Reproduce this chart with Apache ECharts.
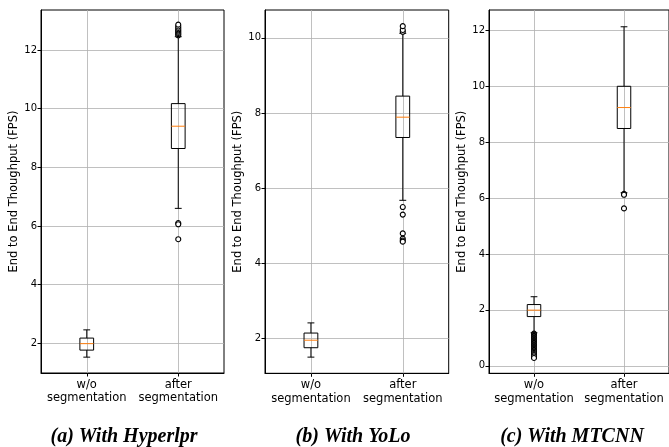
<!DOCTYPE html>
<html>
<head>
<meta charset="utf-8">
<script src="https://cdn.jsdelivr.net/npm/echarts@6/dist/echarts.min.js"></script>
<style>
html,body{margin:0;padding:0;background:#fff;}
#chart{width:669px;height:447px;}
</style>
</head>
<body>
<div id="chart"></div>
<script>
// ---------- data ----------
var categories = ['w/o\nsegmentation', 'after\nsegmentation'];
var yTitle = 'End to End Thoughput (FPS)';
var captions = ['(a) With Hyperlpr', '(b) With YoLo', '(c) With MTCNN'];

// box stats: [lowWhisker, Q1, median, Q3, highWhisker]
var hyperlprBoxes = [[1.53, 1.77, 1.99, 2.18, 2.46], [6.60, 8.64, 9.40, 10.17, 12.45]];
var hyperlprOutWo = [];
var hyperlprOutAfter = [12.50, 12.54, 12.58, 12.62, 12.66, 12.70, 12.75, 12.80, 12.86, 6.10, 6.06, 5.55];

var yoloBoxes = [[1.51, 1.76, 1.96, 2.15, 2.42], [5.68, 7.35, 7.89, 8.45, 10.12]];
var yoloOutWo = [];
var yoloOutAfter = [10.16, 10.21, 10.31, 5.50, 5.30, 4.80, 4.66, 4.61, 4.58];

var mtcnnBoxes = [[1.18, 1.76, 1.99, 2.19, 2.47], [6.19, 8.49, 9.24, 10.00, 12.13]];
var mtcnnOutWo = [1.15, 1.12, 1.10, 1.07, 1.05, 1.02, 1.00, 0.97, 0.95, 0.92, 0.90, 0.87, 0.85,
                  0.82, 0.80, 0.77, 0.75, 0.72, 0.70, 0.67, 0.65, 0.62, 0.60, 0.57, 0.55, 0.52,
                  0.50, 0.46, 0.42, 0.38, 0.33, 0.28];
var mtcnnOutAfter = [6.15, 6.12, 5.63];

var yRanges = [[0.99, 13.36], [1.08, 10.74], [-0.27, 12.73]];

// ---------- layout ----------
var grids = [
  {left: 41, top: 10, width: 183, height: 363},
  {left: 265, top: 10, width: 183.7, height: 363.3},
  {left: 489, top: 10, width: 183.3, height: 363.3}
];
var captionX = [124, 353, 572];

var panels = [
  {boxes: hyperlprBoxes, outWo: hyperlprOutWo, outAfter: hyperlprOutAfter},
  {boxes: yoloBoxes, outWo: yoloOutWo, outAfter: yoloOutAfter},
  {boxes: mtcnnBoxes, outWo: mtcnnOutWo, outAfter: mtcnnOutAfter}
];

var tickFont = {fontFamily: 'DejaVu Sans', fontSize: 10, color: '#000'};

var option = {
  animation: false,
  backgroundColor: '#fff',
  grid: [], xAxis: [], yAxis: [], series: [], graphic: []
};

panels.forEach(function (p, i) {
  var g = grids[i];
  option.grid.push({left: g.left, top: g.top, width: g.width, height: g.height,
    show: true, borderColor: '#000', borderWidth: 1, backgroundColor: 'transparent'});
  option.xAxis.push({
    type: 'category', gridIndex: i, data: categories, boundaryGap: true,
    axisLine: {show: true, onZero: false, lineStyle: {color: '#000', width: 1}},
    axisTick: {show: true, alignWithLabel: true, length: 3.5, lineStyle: {color: '#000'}},
    axisLabel: {interval: 0, hideOverlap: false, fontFamily: 'DejaVu Sans', fontSize: 11.5,
      color: '#000', lineHeight: 13.5, margin: 5, align: 'center'},
    splitLine: {show: false}
  });
  option.yAxis.push({
    type: 'value', gridIndex: i, min: yRanges[i][0], max: yRanges[i][1],
    splitNumber: 6, minInterval: 2, maxInterval: 2,
    name: yTitle, nameLocation: 'middle', nameGap: 15,
    nameTextStyle: {fontFamily: 'DejaVu Sans', fontSize: 11.5, color: '#000'},
    axisLine: {show: true, onZero: false, lineStyle: {color: '#000', width: 1}},
    axisTick: {show: true, length: 3.5, lineStyle: {color: '#000'}},
    axisLabel: Object.assign({margin: 4, showMinLabel: false, showMaxLabel: false}, tickFont),
    splitLine: {show: true, showMinLine: false, showMaxLine: false, lineStyle: {color: '#b0b0b0', width: 0.8}}
  });

  // outliers + vertical grid lines
  var outData = p.outWo.map(function (v) { return [0, v]; })
    .concat(p.outAfter.map(function (v) { return [1, v]; }));
  option.series.push({
    type: 'scatter', xAxisIndex: i, yAxisIndex: i, z: 4,
    symbol: 'circle', symbolSize: 5,
    itemStyle: {color: '#ffffff', borderColor: '#000', borderWidth: 1.1, opacity: 1},
    data: outData,
    markLine: {
      silent: true, symbol: ['none', 'none'], label: {show: false}, z: 1,
      lineStyle: {color: '#b0b0b0', width: 0.8, type: 'solid'},
      data: [{xAxis: 0}, {xAxis: 1}]
    }
  });

  // boxes
  var boxData = p.boxes.map(function (b, k) { return [k].concat(b); });
  option.series.push({
    type: 'custom', xAxisIndex: i, yAxisIndex: i, z: 3,
    data: boxData,
    renderItem: function (params, api) {
      var idx = api.value(0);
      var band = api.size([1, 0])[0];
      var bw = band * 0.15, cw = bw / 2;
      var pLo = api.coord([idx, api.value(1)]);
      var pQ1 = api.coord([idx, api.value(2)]);
      var pMed = api.coord([idx, api.value(3)]);
      var pQ3 = api.coord([idx, api.value(4)]);
      var pHi = api.coord([idx, api.value(5)]);
      var x = pQ1[0];
      var st = {stroke: '#000', lineWidth: 1, fill: null};
      return {
        type: 'group',
        children: [
          {type: 'line', shape: {x1: x, y1: pQ1[1], x2: x, y2: pLo[1]}, style: st},
          {type: 'line', shape: {x1: x, y1: pQ3[1], x2: x, y2: pHi[1]}, style: st},
          {type: 'line', shape: {x1: x - cw / 2, y1: pLo[1], x2: x + cw / 2, y2: pLo[1]}, style: st},
          {type: 'line', shape: {x1: x - cw / 2, y1: pHi[1], x2: x + cw / 2, y2: pHi[1]}, style: st},
          {type: 'rect', shape: {x: x - bw / 2, y: pQ3[1], width: bw, height: pQ1[1] - pQ3[1]},
            style: {stroke: '#000', lineWidth: 1, fill: 'transparent'}},
          {type: 'line', shape: {x1: x - bw / 2, y1: pMed[1], x2: x + bw / 2, y2: pMed[1]},
            style: {stroke: '#ff7f0e', lineWidth: 1}}
        ]
      };
    }
  });
});

option.graphic = captions.map(function (c, i) {
  return {type: 'text', x: captionX[i], y: 437,
    style: {text: c, textAlign: 'center', textVerticalAlign: 'middle',
      font: 'italic bold 20px "Liberation Serif"', fill: '#000'}};
});

var chart = echarts.init(document.getElementById('chart'), null, {renderer: 'canvas'});
chart.setOption(option);
</script>
</body>
</html>
